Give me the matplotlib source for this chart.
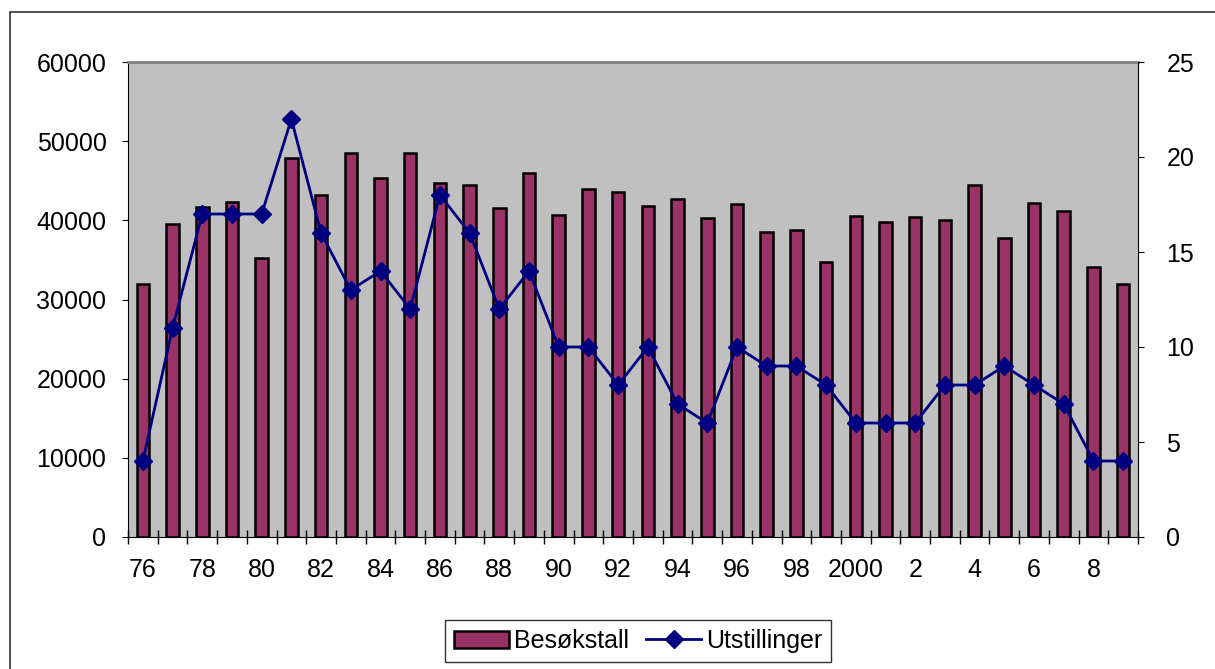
import matplotlib
matplotlib.use("Agg")
import matplotlib.pyplot as plt
import numpy as np
from matplotlib.patches import Rectangle

plt.rcParams["font.family"] = ["Liberation Sans", "DejaVu Sans"]

years = list(range(1976, 2010))
besokstall = [32000, 39500, 41700, 42300, 35300, 47900, 43200, 48500, 45400, 48500,
              44700, 44500, 41600, 46000, 40700, 44000, 43600, 41800, 42700, 40300,
              42100, 38500, 38800, 34700, 40500, 39800, 40400, 40100, 44500, 37800,
              42200, 41200, 34100, 32000]
utstillinger = [4, 11, 17, 17, 17, 22, 16, 13, 14, 12, 18, 16, 12, 14, 10, 10, 8, 10,
                7, 6, 10, 9, 9, 8, 6, 6, 6, 8, 8, 9, 8, 7, 4, 4]
tick_labels = ["76", "78", "80", "82", "84", "86", "88", "90", "92", "94", "96", "98",
               "2000", "2", "4", "6", "8"]

W, H = 1215, 669
FS = 18
fig = plt.figure(figsize=(W / 100, H / 100), dpi=100)

# outer chart frame
fig.add_artist(Rectangle((10 / W, -0.1), 1.2, 1 - 12 / H + 0.1, transform=fig.transFigure,
                         fill=False, edgecolor="#303030", linewidth=1.2))

ax = fig.add_axes([128 / W, 1 - 537 / H, (1138 - 128) / W, (537 - 62) / H])
ax.set_facecolor("#C0C0C0")
x = np.arange(len(years))
bars = ax.bar(x, besokstall, width=0.42, color="#993366", edgecolor="black",
              linewidth=1.8, label="Besøkstall", zorder=2)
ax.set_xlim(-0.5, len(years) - 0.5)
ax.set_ylim(0, 60000)
ax.set_yticks(np.arange(0, 60001, 10000))
ax.tick_params(axis="y", direction="out", length=4.5, labelsize=FS, pad=11)

ax.set_xticks(np.arange(-0.5, len(years), 1.0))
ax.set_xticklabels([])
ax.tick_params(axis="x", direction="inout", length=10, width=1)
ax.set_xticks(x[::2], minor=True)
ax.set_xticklabels(tick_labels, minor=True)
ax.tick_params(axis="x", which="minor", length=0, labelsize=FS, pad=15)

ax.spines["top"].set_color("#808080")
ax.spines["top"].set_linewidth(2)
ax.spines["right"].set_visible(False)

ax2 = ax.twinx()
line, = ax2.plot(x, utstillinger, color="#000080", linewidth=2, marker="D",
                 markersize=9, label="Utstillinger", zorder=3)
ax2.set_ylim(0, 25)
ax2.set_yticks(np.arange(0, 26, 5))
ax2.tick_params(axis="y", direction="out", length=4.5, labelsize=FS, pad=16)
ax2.spines["top"].set_visible(False)
ax2.spines["left"].set_visible(False)
ax2.spines["bottom"].set_visible(False)

fig.legend(handles=[bars, line], loc="center", bbox_to_anchor=(638 / W, 1 - 641 / H),
           ncol=2, frameon=True, fancybox=False, edgecolor="black", fontsize=FS,
           handlelength=2.2, handletextpad=0.2, columnspacing=0.7, borderpad=0.35)

fig.savefig("out.png", dpi=100)
